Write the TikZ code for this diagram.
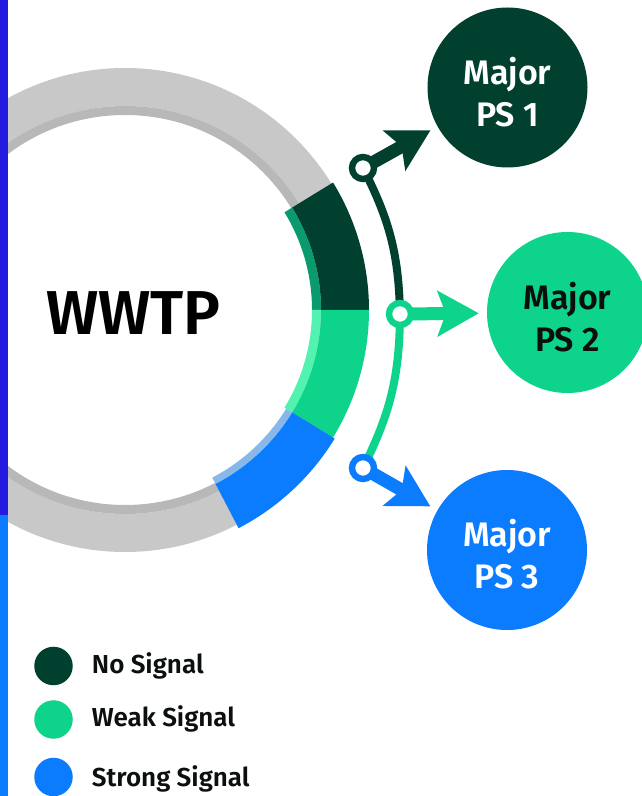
\documentclass[tikz,border=0pt]{standalone}
\usepackage{fontspec}
\setmainfont{Fira Sans}[BoldFont={Fira Sans SemiBold}]
\usetikzlibrary{arrows.meta,calc}

\definecolor{nosig}{HTML}{013F2E}
\definecolor{weaksig}{HTML}{0DD48A}
\definecolor{strongsig}{HTML}{0C7CFF}
\definecolor{nosiglt}{HTML}{0A9A6E}
\definecolor{weaksiglt}{HTML}{52F2B0}
\definecolor{strongsiglt}{HTML}{88B8EA}
\definecolor{ringgray}{HTML}{C8C8C8}
\definecolor{ringshade}{HTML}{B8B8B8}
\definecolor{barpurple}{HTML}{241BE0}
\definecolor{inkdark}{HTML}{0B0F0E}

\tikzset{
  pscircle/.style={circle, minimum size=160pt, inner sep=0pt},
  pslabel/.style={font=\fontsize{34}{42}\selectfont\bfseries, align=center, inner sep=0pt},
  hub/.style={circle, fill=white, line width=6.4pt, minimum size=22pt, inner sep=0pt},
  feed/.style={line width=8pt},
  push/.style={line width=13pt, -{Stealth[length=41pt, width=45pt, inset=8pt]}, shorten >=8pt},
  legdot/.style={circle, minimum size=38.5pt, inner sep=0pt},
  legtext/.style={font=\fontsize{26}{30}\selectfont\bfseries, text=inkdark, anchor=base west, inner sep=0pt},
}

% annular sector: centre, start angle, end angle, inner radius, outer radius
\newcommand{\sectorfill}[6]{%
  \fill[#1] ($(#2)+(#3:#6)$) arc[start angle=#3, end angle=#4, radius=#6]
    -- ($(#2)+(#4:#5)$) arc[start angle=#4, end angle=#3, radius=#5] -- cycle;}

\begin{document}
\begin{tikzpicture}[x=1pt, y=1pt]
\useasboundingbox (0,0) rectangle (642,796);
\clip (0,0) rectangle (642,796);
\fill[white] (0,0) rectangle (642,796);

\coordinate (hubc) at (125,486);

% grey base ring with a darker inner rim
\fill[ringgray, even odd rule] (hubc) circle[radius=242] (hubc) circle[radius=204];
\fill[ringshade, even odd rule] (hubc) circle[radius=204] (hubc) circle[radius=195];

% signal segments
\sectorfill{nosig}{hubc}{0}{31.5}{196}{244}
\sectorfill{nosiglt}{hubc}{0}{31.5}{187}{196}
\sectorfill{weaksig}{hubc}{-31.5}{0}{196}{244}
\sectorfill{weaksiglt}{hubc}{-31.5}{0}{187}{196}
\sectorfill{strongsig}{hubc}{-62.5}{-31.5}{196}{246}
\sectorfill{strongsiglt}{hubc}{-62.5}{-31.5}{189}{196}

\node[font=\fontsize{62}{70}\selectfont\bfseries, anchor=base, inner sep=0pt] (wwtp) at (133.5,461) {WWTP};

% side bar
\fill[barpurple] (0,281) rectangle (8,796);
\fill[strongsig] (0,0) rectangle (8,281);

% pumping stations
\node[pscircle, fill=nosig] (ps1) at (507.5,708.5) {};
\node[pscircle, fill=weaksig, minimum size=161pt] (ps2) at (567.5,483.5) {};
\node[pscircle, fill=strongsig] (ps3) at (507,246) {};
\node[pslabel, text=white] at ([yshift=-5pt]ps1.center) {Major\\PS 1};
\node[pslabel, text=inkdark] at ([yshift=-5pt]ps2.center) {Major\\PS 2};
\node[pslabel, text=white] at ([yshift=-4pt]ps3.center) {Major\\PS 3};

% junction points
\coordinate (htop) at (363,628);
\coordinate (hmid) at (400,482);
\coordinate (hbot) at (363,328);

% feed line
\draw[feed, nosig] (htop) to[bend left=13] (hmid);
\draw[feed, weaksig] (hmid) to[bend left=13] (hbot);

% arrows to the stations
\draw[push, nosig] (htop) -- (ps1);
\draw[push, weaksig] (hmid) -- (ps2);
\draw[push, strongsig] (hbot) -- (ps3);

\node[hub, draw=nosig] (j1) at (htop) {};
\node[hub, draw=weaksig] (j2) at (hmid) {};
\node[hub, draw=strongsig] (j3) at (hbot) {};

% legend
\node[legdot, fill=nosig] (l1) at (53.5,130) {};
\node[legdot, fill=weaksig] (l2) at (53.5,76.5) {};
\node[legdot, fill=strongsig] (l3) at (53.5,19) {};
\node[legtext] (t1) at (91.7,122.7) {No Signal};
\node[legtext] (t2) at (91.7,69.3) {Weak Signal};
\node[legtext] (t3) at (91.7,9.3) {Strong Signal};
\end{tikzpicture}
\end{document}
